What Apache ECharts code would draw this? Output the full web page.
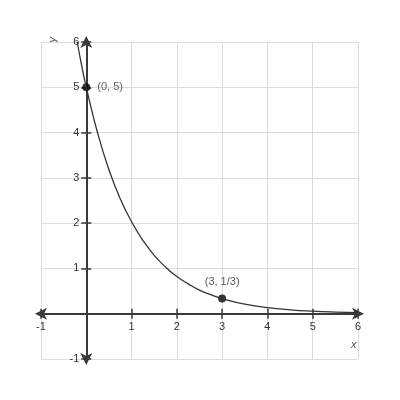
<!DOCTYPE html>
<html>
<head>
<meta charset="utf-8">
<script src="https://cdn.jsdelivr.net/npm/echarts@6/dist/echarts.min.js"></script>
<style>
  html, body { margin: 0; padding: 0; background: #fff; }
  #chart { width: 400px; height: 400px; }
</style>
</head>
<body>
<div id="chart"></div>
<script>
// curve
const curveX = [-0.2, -0.1, 0, 0.25, 0.5, 0.75, 1, 1.25, 1.5, 1.75, 2, 2.25, 2.5, 2.75, 3, 3.5, 4, 4.5, 5, 5.5, 6];
const curveY = [6.0, 5.47, 5, 3.99, 3.18, 2.54, 2.03, 1.62, 1.29, 1.03, 0.82, 0.66, 0.52, 0.42, 0.333, 0.21, 0.135, 0.086, 0.055, 0.035, 0.022];
const pointX = [0, 3];
const pointY = [5, 1 / 3];
const pointLabels = ["(0, 5)", "(3, 1/3)"];
const axisMin = -1;
const axisMax = 6;

window.addEventListener("load", function () {
  const chart = echarts.init(document.getElementById("chart"));
  const font = "Liberation Sans, Arial, sans-serif";
  const axisColor = "#3a3a3a";
  const size = 317;
  const unit = size / (axisMax - axisMin);
  // shift axes from the grid edge to the zero line
  const nearShift = -(0 - axisMin) * unit;
  const farShift = -(axisMax - 0) * unit;

  const hideZero = function (v) {
    return v === 0 ? "" : String(v);
  };

  const lineData = curveX.map(function (x, i) {
    return [x, curveY[i]];
  });
  const pointData = pointX.map(function (x, i) {
    return {
      value: [x, pointY[i]],
      label: {
        show: true,
        formatter: pointLabels[i],
        position: i === 0 ? "right" : "top",
        distance: i === 0 ? 7 : 7,
      },
    };
  });

  const tick = { show: true, length: 5, lineStyle: { color: axisColor, width: 1.5 } };
  const xLabel = {
    formatter: hideZero,
    color: "#333",
    fontSize: 11,
    fontFamily: font,
    margin: 8,
  };
  const yLabel = Object.assign({}, xLabel, { margin: 7 });
  const axisLine = {
    show: true,
    onZero: false,
    symbol: ["arrow", "arrow"],
    symbolSize: [9, 12],
    symbolOffset: [-6, 6],
    lineStyle: { color: axisColor, width: 2 },
  };
  const grid = { show: true, lineStyle: { color: "#dcdcdc", width: 1 } };

  const option = {
    animation: false,
    grid: { left: 41, right: 42, top: 42, bottom: 41 },
    xAxis: [
      {
        type: "value",
        min: axisMin,
        max: axisMax,
        interval: 1,
        offset: nearShift,
        axisLine: axisLine,
        axisTick: tick,
        axisLabel: xLabel,
        splitLine: grid,
      },
      {
        type: "value",
        position: "top",
        min: axisMin,
        max: axisMax,
        interval: 1,
        offset: farShift,
        axisLine: { show: false, onZero: false },
        axisTick: tick,
        axisLabel: { show: false },
        splitLine: { show: false },
      },
    ],
    yAxis: [
      {
        type: "value",
        min: axisMin,
        max: axisMax,
        interval: 1,
        offset: nearShift,
        axisLine: axisLine,
        axisTick: tick,
        axisLabel: yLabel,
        splitLine: grid,
      },
      {
        type: "value",
        position: "right",
        min: axisMin,
        max: axisMax,
        interval: 1,
        offset: farShift,
        axisLine: { show: false, onZero: false },
        axisTick: tick,
        axisLabel: { show: false },
        splitLine: { show: false },
      },
    ],
    graphic: [
      {
        type: "text",
        left: 351,
        top: 339,
        style: { text: "x", font: "italic 11px " + font, fill: "#555" },
      },
      {
        type: "text",
        left: 47,
        top: 37,
        rotation: Math.PI / 2,
        style: { text: "y", font: "italic 11px " + font, fill: "#555" },
      },
    ],
    series: [
      {
        type: "line",
        data: lineData,
        smooth: true,
        showSymbol: false,
        lineStyle: { color: "#333", width: 1.3 },
        silent: true,
      },
      {
        type: "scatter",
        data: pointData,
        symbolSize: 8,
        itemStyle: { color: "#000" },
        label: { color: "#333", fontSize: 11, fontFamily: font },
        silent: true,
      },
    ],
  };

  chart.setOption(option);
});
</script>
</body>
</html>
